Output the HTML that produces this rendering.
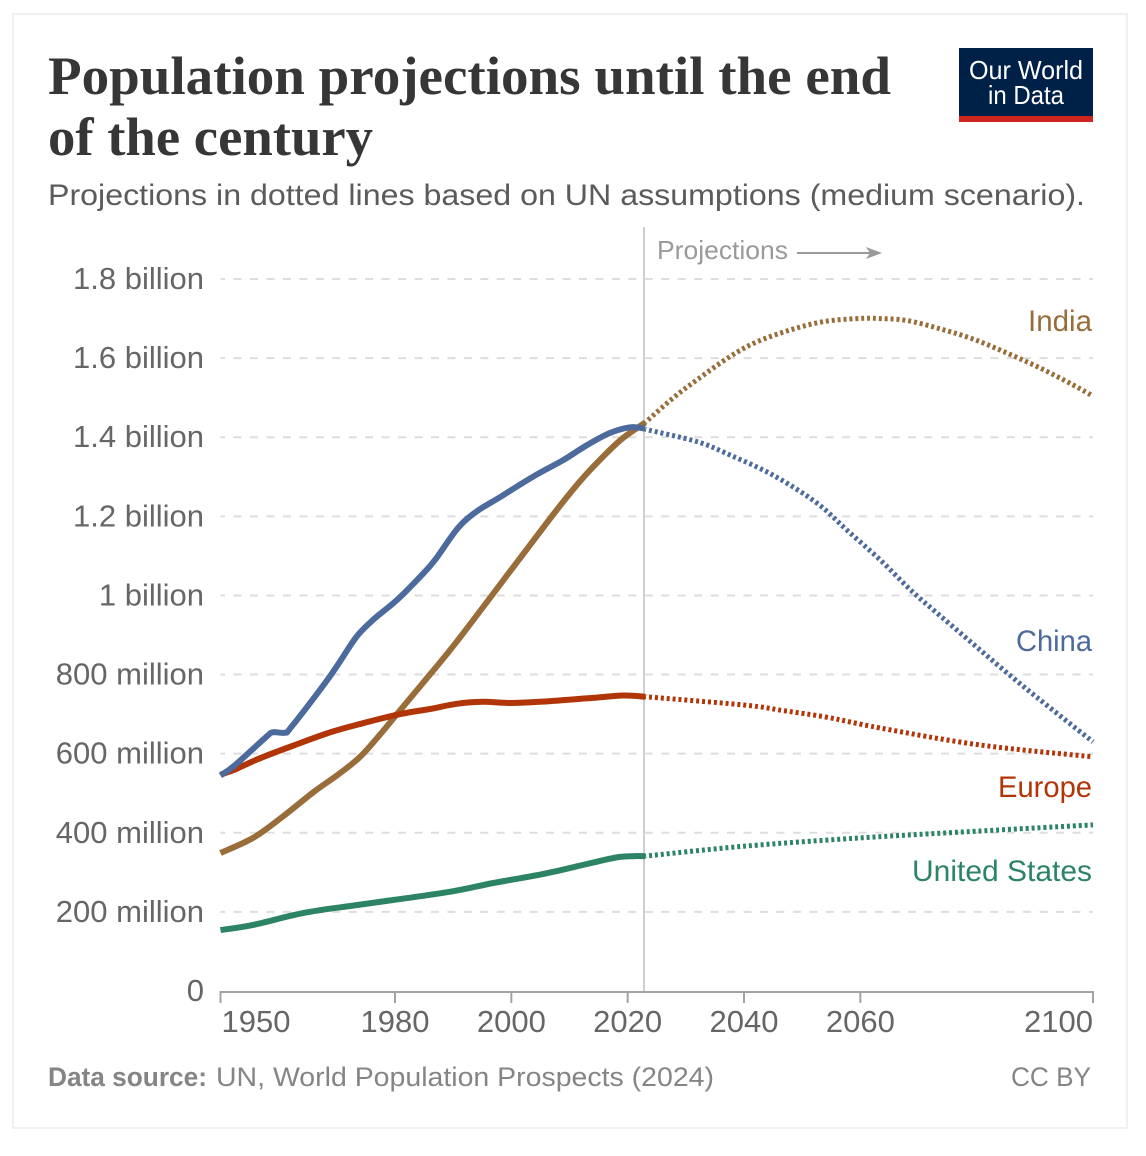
<!DOCTYPE html>
<html lang="en">
<head>
<meta charset="utf-8">
<title>Population projections until the end of the century</title>
<style>
html,body{margin:0;padding:0;background:#fff;width:1146px;height:1156px;overflow:hidden}
svg{display:block;font-family:"Liberation Sans",sans-serif}
</style>
</head>
<body>
<svg id="chart" xmlns="http://www.w3.org/2000/svg" width="1146" height="1156" viewBox="0 0 1146 1156">
  <rect x="13" y="14" width="1114" height="1114" fill="#fff" stroke="#f0f0f0" stroke-width="2"/>
  <text x="48" y="94" font-family="'Liberation Serif',serif" font-weight="700" font-size="54" fill="#363636" textLength="843" lengthAdjust="spacingAndGlyphs">Population projections until the end</text>
  <text x="48" y="155" font-family="'Liberation Serif',serif" font-weight="700" font-size="54" fill="#363636" textLength="325" lengthAdjust="spacingAndGlyphs">of the century</text>
  <text x="48" y="205" font-size="30" fill="#5b5b5b" textLength="1037" lengthAdjust="spacingAndGlyphs">Projections in dotted lines based on UN assumptions (medium scenario).</text>
  <g>
    <rect x="959" y="48" width="134" height="74" fill="#002147"/>
    <rect x="959" y="116" width="134" height="6" fill="#ce261e"/>
    <text x="1026" y="79" text-anchor="middle" font-size="26" fill="#fff" textLength="114" lengthAdjust="spacingAndGlyphs">Our World</text>
    <text x="1026" y="104" text-anchor="middle" font-size="26" fill="#fff" textLength="76" lengthAdjust="spacingAndGlyphs">in Data</text>
  </g>
  <g id="grid"></g>
  <g id="yticks"></g>
  <line x1="644" y1="227" x2="644" y2="991" stroke="#cfcfcf" stroke-width="2"/>
  <text x="657" y="259" font-size="26" fill="#9a9a9a" textLength="131" lengthAdjust="spacingAndGlyphs">Projections</text>
  <g>
    <line x1="797" y1="253" x2="876" y2="253" stroke="#9a9a9a" stroke-width="2"/>
    <polygon points="882,253 866,247 870,253 866,259" fill="#9a9a9a"/>
  </g>
  <g id="xaxis"></g>
  <g id="series"></g>
  <text x="1092" y="331" text-anchor="end" font-size="30" fill="#996d39" textLength="64" lengthAdjust="spacingAndGlyphs">India</text>
  <text x="1092" y="651" text-anchor="end" font-size="30" fill="#4c6a9c" textLength="76" lengthAdjust="spacingAndGlyphs">China</text>
  <text x="1092" y="797" text-anchor="end" font-size="30" fill="#b13507" textLength="94" lengthAdjust="spacingAndGlyphs">Europe</text>
  <text x="1092" y="881" text-anchor="end" font-size="30" fill="#2c8465" textLength="180" lengthAdjust="spacingAndGlyphs">United States</text>
  <text x="48" y="1086" font-size="27" font-weight="700" fill="#858585" textLength="159" lengthAdjust="spacingAndGlyphs">Data source:</text>
  <text x="216" y="1086" font-size="27" fill="#858585" textLength="498" lengthAdjust="spacingAndGlyphs">UN, World Population Prospects (2024)</text>
  <text x="1091" y="1086" text-anchor="end" font-size="27" fill="#858585" textLength="80" lengthAdjust="spacingAndGlyphs">CC BY</text>
</svg>
<script>
const yTickValues = [0, 200, 400, 600, 800, 1000, 1200, 1400, 1600, 1800];
const yTickLabels = ["0", "200 million", "400 million", "600 million", "800 million", "1 billion", "1.2 billion", "1.4 billion", "1.6 billion", "1.8 billion"];
const xTickYears = [1950, 1980, 2000, 2020, 2040, 2060, 2100];

const chinaYears = [1950, 1952.5, 1957.9, 1959, 1961.1, 1962.2, 1968, 1970.5, 1973.4, 1976.2, 1980.3, 1984.3, 1986.9, 1990.8, 1994, 1998.1, 2003.7, 2008.9, 2013, 2017, 2020.4, 2023];
const chinaValues = [545, 571, 643, 654, 653, 668, 779, 832, 896, 938, 988, 1047, 1090, 1170, 1212, 1249, 1300, 1342, 1380, 1411, 1425, 1422];
const chinaProjYears = [2023, 2031.9, 2037.6, 2045, 2052.5, 2057.7, 2063.4, 2069, 2074.9, 2080.6, 2086.3, 2092, 2100];
const chinaProjValues = [1420, 1389, 1355, 1304, 1234, 1165, 1090, 1009, 934, 862, 791, 723, 630];

const indiaYears = [1950, 1955.6, 1960.7, 1966.2, 1970.5, 1974, 1977.4, 1980.9, 1986, 1990.6, 2000, 2007.8, 2012.3, 2016.4, 2019.2, 2023];
const indiaValues = [349, 387, 441, 505, 550, 592, 648, 710, 800, 883, 1065, 1216, 1297, 1360, 1398, 1437];
const indiaProjYears = [2023, 2027.8, 2031.9, 2037.6, 2042.2, 2047.9, 2053.6, 2059.4, 2063.4, 2068, 2073.7, 2079.4, 2085.2, 2090.9, 2096.6, 2100];
const indiaProjValues = [1437, 1499, 1545, 1604, 1641, 1671, 1692, 1700, 1700, 1695, 1674, 1648, 1613, 1575, 1532, 1504];

const europeYears = [1950, 1952.5, 1956.4, 1962.8, 1969.1, 1974.5, 1980.9, 1986, 1990.6, 1995.1, 1999.8, 2004.9, 2014, 2019.2, 2023];
const europeValues = [547, 560, 586, 622, 655, 677, 700, 713, 726, 731, 728, 731, 741, 747, 744];
const europeProjYears = [2023, 2040, 2046.7, 2054.3, 2063.4, 2080.6, 2100];
const europeProjValues = [744, 723, 709, 692, 665, 622, 592];

const usYears = [1950, 1955.6, 1964.2, 1972.3, 1979.7, 1989.5, 1996.9, 2005.5, 2013, 2018.7, 2023];
const usValues = [154, 167, 197, 215, 230, 251, 273, 296, 321, 339, 341];
const usProjYears = [2023, 2040, 2060, 2080, 2100];
const usProjValues = [341, 366, 387, 404, 420];

const NS = "http://www.w3.org/2000/svg";
function xScale(year) { return 220.5 + (year - 1950) * (1093 - 220.5) / 150; }
function yScale(value) { return 991 - value * (991 - 279) / 1800; }
function make(tag, parent, attrs) {
  const el = document.createElementNS(NS, tag);
  for (const k in attrs) el.setAttribute(k, attrs[k]);
  parent.appendChild(el);
  return el;
}
function pathFrom(years, values) {
  const pts = years.map(function (y, i) { return [xScale(y), yScale(values[i])]; });
  let d = "M" + pts[0][0].toFixed(1) + " " + pts[0][1].toFixed(1);
  for (let i = 0; i < pts.length - 1; i++) {
    const p0 = pts[Math.max(i - 1, 0)], p1 = pts[i], p2 = pts[i + 1], p3 = pts[Math.min(i + 2, pts.length - 1)];
    const c1x = p1[0] + (p2[0] - p0[0]) / 6, c1y = p1[1] + (p2[1] - p0[1]) / 6;
    const c2x = p2[0] - (p3[0] - p1[0]) / 6, c2y = p2[1] - (p3[1] - p1[1]) / 6;
    d += "C" + c1x.toFixed(1) + " " + c1y.toFixed(1) + " " + c2x.toFixed(1) + " " + c2y.toFixed(1) + " " + p2[0].toFixed(1) + " " + p2[1].toFixed(1);
  }
  return d;
}

const grid = document.getElementById("grid");
const yticks = document.getElementById("yticks");
yTickValues.forEach(function (v, i) {
  if (v > 0) {
    const g = make("line", grid, { x1: xScale(1950), x2: xScale(2100), y1: yScale(v), y2: yScale(v), stroke: "#dddddd", "stroke-width": 2, "stroke-dasharray": "8 8.45", "stroke-dashoffset": 3.4 });
    
    
  }
  const t = make("text", yticks, { x: 204, y: yScale(v) + 10, "text-anchor": "end", "font-size": 31, fill: "#666666" });
  
  
  t.textContent = yTickLabels[i];
});

const xaxis = document.getElementById("xaxis");
const axisLine = make("line", xaxis, { x1: xScale(1950) - 1, x2: xScale(2100) + 1, y1: yScale(0) + 1, y2: yScale(0) + 1, stroke: "#a3a3a3", "stroke-width": 2 });


xTickYears.forEach(function (yr, i) {
  const px = xScale(yr);
  const tk = make("line", xaxis, { x1: px, x2: px, y1: yScale(0) + 1, y2: yScale(0) + 12, stroke: "#a3a3a3", "stroke-width": 2 });
  
  
  const first = i === 0;
  const last = i === xTickYears.length - 1;
  const t = make("text", xaxis, { x: first ? px + 1 : px, y: 1032, "text-anchor": first ? "start" : last ? "end" : "middle", "font-size": 31, fill: "#666666" });
  
  
  t.textContent = String(yr);
});

const seriesGroup = document.getElementById("series");
const seriesList = [
  [usYears, usValues, usProjYears, usProjValues, "#2c8465"],
  [indiaYears, indiaValues, indiaProjYears, indiaProjValues, "#996d39"],
  [europeYears, europeValues, europeProjYears, europeProjValues, "#b13507"],
  [chinaYears, chinaValues, chinaProjYears, chinaProjValues, "#4c6a9c"]
];
seriesList.forEach(function (s) {
  const proj = make("path", seriesGroup, { d: pathFrom(s[2], s[3]), fill: "none", stroke: s[4], "stroke-width": 5, "stroke-dasharray": "3 2.9", "stroke-dashoffset": -4 });
  
  
  const hist = make("path", seriesGroup, { d: pathFrom(s[0], s[1]), fill: "none", stroke: s[4], "stroke-width": 6, "stroke-linejoin": "round" });
  
  
});
</script>
</body>
</html>
